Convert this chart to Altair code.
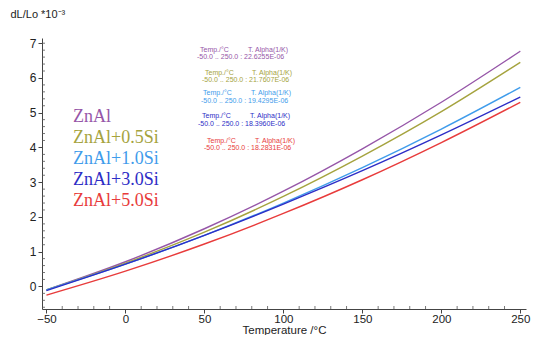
import altair as alt
import pandas as pd

# ---- data ----
temps = [-50, 0, 50, 100, 150, 200, 250]
series_names = ["ZnAl", "ZnAl+0.5Si", "ZnAl+1.0Si", "ZnAl+3.0Si", "ZnAl+5.0Si"]
znal = [-0.10, 0.71, 1.66, 2.74, 3.96, 5.30, 6.77]
znal_05 = [-0.10, 0.67, 1.56, 2.59, 3.75, 5.03, 6.45]
znal_10 = [-0.10, 0.64, 1.47, 2.40, 3.42, 4.53, 5.73]
znal_30 = [-0.12, 0.64, 1.47, 2.37, 3.33, 4.36, 5.45]
znal_50 = [-0.25, 0.44, 1.22, 2.10, 3.07, 4.14, 5.30]
alpha_values = ["22.6255E-06", "21.7607E-06", "19.4295E-06", "18.3960E-06", "18.2831E-06"]
temp_range = "-50.0 .. 250.0 :"
x_ticks = [-50, 0, 50, 100, 150, 200, 250]
y_ticks = [0, 1, 2, 3, 4, 5, 6, 7]
x_minor = [-40, -30, -20, -10, 10, 20, 30, 40, 60, 70, 80, 90, 110, 120, 130, 140,
           160, 170, 180, 190, 210, 220, 230, 240]
y_minor = [-0.6, -0.4, -0.2, 0.2, 0.4, 0.6, 0.8, 1.2, 1.4, 1.6, 1.8, 2.2, 2.4, 2.6, 2.8,
           3.2, 3.4, 3.6, 3.8, 4.2, 4.4, 4.6, 4.8, 5.2, 5.4, 5.6, 5.8, 6.2, 6.4, 6.6, 6.8, 7.0]

colors = ["#9656A8", "#A5A33E", "#3F9CEB", "#2D2DC6", "#E83B3B"]

all_values = [znal, znal_05, znal_10, znal_30, znal_50]
rows = []
for name, vals in zip(series_names, all_values):
    for t, v in zip(temps, vals):
        rows.append({"T": t, "dL": v, "series": name})
df = pd.DataFrame(rows)

W, H = 484, 271
xscale = alt.Scale(domain=[-52.8, 253.6], nice=False, zero=False)
yscale = alt.Scale(domain=[-0.65, 7.15], nice=False, zero=False)

xaxis = alt.Axis(values=x_ticks, title="Temperature /°C", grid=False,
                 tickSize=4, labelPadding=0, labelFontSize=11.5,
                 labelOverlap=False,
                 titleFontSize=11.5, titleFontWeight="normal",
                 titleY=24, titleBaseline="alphabetic",
                 domainColor="#444", tickColor="#444",
                 labelColor="#222", titleColor="#222",
                 labelFont="Liberation Sans", titleFont="Liberation Sans")
yaxis = alt.Axis(values=y_ticks, title="dL/Lo *10⁻³", grid=False,
                 tickSize=4, labelPadding=2, labelFontSize=12,
                 labelOverlap=False,
                 titleAngle=0, titleAlign="left", titleBaseline="middle",
                 titleX=-32, titleY=-24, titleFontSize=11,
                 titleFontWeight="normal",
                 domainColor="#444", tickColor="#444",
                 labelColor="#222", titleColor="#222",
                 labelFont="Liberation Sans", titleFont="Liberation Sans")

lines = alt.Chart(df).mark_line(interpolate="monotone", strokeWidth=1.4).encode(
    x=alt.X("T:Q", scale=xscale, axis=xaxis),
    y=alt.Y("dL:Q", scale=yscale, axis=yaxis),
    color=alt.Color("series:N", scale=alt.Scale(domain=series_names, range=colors),
                    legend=None),
    detail="series:N",
)

xminor = alt.Chart(pd.DataFrame({"T": x_minor})).mark_rule(
    strokeWidth=0.8, color="#555").encode(
    x=alt.X("T:Q", scale=xscale, axis=xaxis), y=alt.value(H), y2=alt.value(H - 3))
yminor = alt.Chart(pd.DataFrame({"dL": y_minor})).mark_rule(
    strokeWidth=0.8, color="#555").encode(
    y=alt.Y("dL:Q", scale=yscale, axis=yaxis), x=alt.value(0), x2=alt.value(3))

layers = [lines, xminor, yminor]

# legend-like labels
legend_y = [79, 100, 121, 142, 163]
for name, col, ly in zip(series_names, colors, legend_y):
    layers.append(
        alt.Chart(pd.DataFrame({"t": [name]})).mark_text(
            align="left", baseline="middle", font="Liberation Serif",
            fontSize=18, color=col).encode(
            x=alt.value(31), y=alt.value(ly), text="t:N"))

# small annotation boxes
ann_pos = [(158, 12, 155, 19, 206), (163, 35, 160, 42, 210), (161, 55, 159, 63, 209),
           (160, 78, 156, 86, 208), (165, 103, 162, 110, 213)]
for (tx, ty, vx, vy, ax), col, av in zip(ann_pos, colors, alpha_values):
    for txt, px, py in [("Temp./°C", tx, ty), ("T. Alpha(1/K)", ax, ty),
                        (f"{temp_range} {av}", vx, vy)]:
        layers.append(
            alt.Chart(pd.DataFrame({"t": [txt]})).mark_text(
                align="left", baseline="middle", font="Liberation Sans",
                fontSize=7, color=col).encode(
                x=alt.value(px), y=alt.value(py), text="t:N"))

chart = alt.layer(*layers).properties(
    width=W, height=H,
    autosize=alt.AutoSizeParams(type="none"),
    padding={"left": 34, "top": 30, "right": 5, "bottom": 26},
    background="white",
).configure_view(stroke=None)

chart.save("out.html", embed_options={"renderer": "svg", "actions": False})
